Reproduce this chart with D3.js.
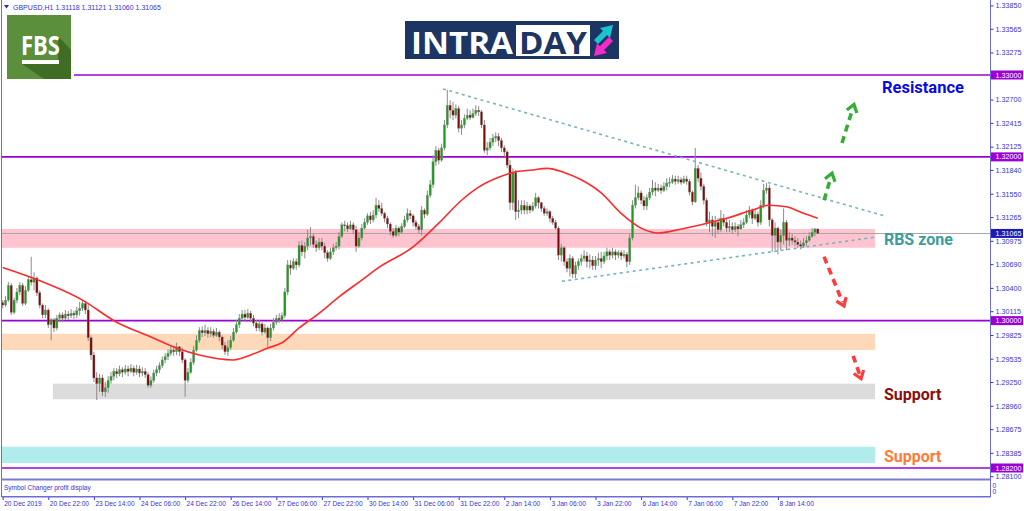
<!DOCTYPE html>
<html><head><meta charset="utf-8">
<script src="https://cdn.jsdelivr.net/npm/d3@7"></script>
<style>body{margin:0;background:#fff}svg{display:block}</style>
</head><body><svg id="c" width="1024" height="511"></svg>
<script>
// ---------------- DATA ----------------
const symbolTitle = "GBPUSD,H1";
const headerValues = ["1.31118", "1.31121", "1.31060", "1.31065"];
const firstOpen = 1.3022;
const closes = [
1.3019,1.3025,1.3043,1.3010,1.3025,1.3035,1.3043,1.3021,1.3037,1.3050,
1.3047,1.3052,1.3034,1.3019,1.3007,1.3013,1.2995,1.3001,1.2991,1.3003,
1.3007,1.3003,1.3008,1.3006,1.3009,1.3007,1.3012,1.3015,1.3021,1.3013,
1.2979,1.2958,1.2930,1.2923,1.2930,1.2913,1.2918,1.2927,1.2932,1.2938,
1.2935,1.2940,1.2937,1.2941,1.2938,1.2942,1.2937,1.2941,1.2936,1.2938,
1.2934,1.2921,1.2927,1.2936,1.2940,1.2945,1.2952,1.2956,1.2960,1.2964,
1.2962,1.2968,1.2962,1.2952,1.2927,1.2937,1.2949,1.2964,1.2976,1.2988,
1.2985,1.2988,1.2984,1.2987,1.2982,1.2986,1.2980,1.2970,1.2962,1.2967,
1.2976,1.2986,1.2995,1.3003,1.3008,1.3004,1.3009,1.3003,1.2997,1.2991,
1.2996,1.2986,1.2991,1.2979,1.2991,1.2998,1.3003,1.3001,1.3006,1.3035,
1.3068,1.3064,1.3072,1.3068,1.3092,1.3084,1.3091,1.3101,1.3103,1.3093,
1.3089,1.3096,1.3091,1.3083,1.3076,1.3084,1.3089,1.3091,1.3103,1.3117,
1.3116,1.3112,1.3117,1.3111,1.3091,1.3101,1.3113,1.3120,1.3128,1.3123,
1.3129,1.3141,1.3137,1.3131,1.3125,1.3118,1.3109,1.3104,1.3113,1.3108,
1.3115,1.3123,1.3131,1.3128,1.3120,1.3115,1.3111,1.3135,1.3130,1.3153,
1.3166,1.3194,1.3208,1.3196,1.3211,1.3239,1.3263,1.3257,1.3251,1.3259,
1.3235,1.3239,1.3247,1.3251,1.3248,1.3253,1.3257,1.3255,1.3239,1.3208,
1.3211,1.3218,1.3223,1.3225,1.3220,1.3211,1.3206,1.3190,1.3144,1.3181,
1.3133,1.3135,1.3141,1.3135,1.3140,1.3135,1.3140,1.3150,1.3144,1.3137,
1.3131,1.3133,1.3125,1.3120,1.3113,1.3080,1.3089,1.3072,1.3064,1.3076,
1.3057,1.3067,1.3072,1.3076,1.3079,1.3072,1.3074,1.3067,1.3074,1.3076,
1.3072,1.3079,1.3084,1.3080,1.3084,1.3080,1.3083,1.3079,1.3081,1.3072,
1.3101,1.3141,1.3150,1.3156,1.3147,1.3140,1.3150,1.3157,1.3162,1.3159,
1.3162,1.3159,1.3164,1.3168,1.3169,1.3173,1.3170,1.3172,1.3169,1.3173,
1.3170,1.3157,1.3145,1.3186,1.3174,1.3164,1.3147,1.3120,1.3123,1.3115,
1.3120,1.3111,1.3125,1.3120,1.3113,1.3115,1.3111,1.3115,1.3112,1.3117,
1.3120,1.3129,1.3135,1.3125,1.3130,1.3120,1.3141,1.3159,1.3162,1.3123,
1.3104,1.3113,1.3096,1.3104,1.3120,1.3098,1.3101,1.3098,1.3096,1.3093,
1.3091,1.3095,1.3098,1.3103,1.3108,1.3112,1.31065];
const highs = [
1.3025,1.3030,1.3047,1.3046,1.3028,1.3040,1.3047,1.3046,1.3042,1.3054,
1.3078,1.3059,1.3054,1.3037,1.3021,1.3019,1.3015,1.3003,1.3003,1.3007,
1.3010,1.3010,1.3013,1.3012,1.3014,1.3012,1.3017,1.3023,1.3025,1.3024,
1.3020,1.2982,1.2962,1.2937,1.2935,1.2934,1.2925,1.2932,1.2937,1.2942,
1.2942,1.2945,1.2943,1.2946,1.2945,1.2947,1.2945,1.2946,1.2945,1.2943,
1.2942,1.2937,1.2932,1.2940,1.2945,1.2949,1.2956,1.2960,1.2965,1.2970,
1.2969,1.2973,1.2969,1.2967,1.2954,1.2942,1.2954,1.2969,1.2982,1.2992,
1.2993,1.2995,1.2992,1.2992,1.2990,1.2991,1.2988,1.2982,1.2974,1.2976,
1.2981,1.2991,1.3001,1.3008,1.3013,1.3013,1.3014,1.3012,1.3007,1.3001,
1.3001,1.2998,1.2996,1.2993,1.2996,1.3003,1.3007,1.3009,1.3010,1.3040,
1.3074,1.3074,1.3076,1.3076,1.3097,1.3098,1.3096,1.3111,1.3114,1.3106,
1.3098,1.3101,1.3101,1.3095,1.3086,1.3089,1.3094,1.3096,1.3108,1.3120,
1.3122,1.3120,1.3122,1.3120,1.3116,1.3108,1.3118,1.3125,1.3131,1.3133,
1.3135,1.3150,1.3147,1.3144,1.3133,1.3128,1.3120,1.3113,1.3117,1.3115,
1.3119,1.3128,1.3137,1.3135,1.3130,1.3123,1.3118,1.3140,1.3137,1.3159,
1.3172,1.3202,1.3213,1.3211,1.3216,1.3245,1.3282,1.3269,1.3267,1.3264,
1.3262,1.3245,1.3252,1.3259,1.3257,1.3259,1.3263,1.3262,1.3257,1.3245,
1.3218,1.3223,1.3228,1.3230,1.3229,1.3223,1.3214,1.3208,1.3196,1.3186,
1.3184,1.3147,1.3147,1.3147,1.3145,1.3142,1.3145,1.3156,1.3152,1.3145,
1.3140,1.3137,1.3135,1.3128,1.3123,1.3115,1.3094,1.3091,1.3076,1.3081,
1.3079,1.3072,1.3076,1.3081,1.3086,1.3084,1.3081,1.3079,1.3079,1.3083,
1.3084,1.3084,1.3089,1.3087,1.3089,1.3087,1.3086,1.3086,1.3086,1.3084,
1.3106,1.3147,1.3166,1.3164,1.3159,1.3152,1.3154,1.3162,1.3172,1.3169,
1.3167,1.3166,1.3169,1.3174,1.3175,1.3178,1.3177,1.3177,1.3175,1.3177,
1.3177,1.3173,1.3159,1.3211,1.3190,1.3181,1.3167,1.3150,1.3133,1.3128,
1.3128,1.3125,1.3135,1.3130,1.3125,1.3123,1.3120,1.3120,1.3118,1.3123,
1.3125,1.3135,1.3140,1.3137,1.3137,1.3133,1.3147,1.3167,1.3168,1.3166,
1.3125,1.3120,1.3115,1.3111,1.3137,1.3123,1.3108,1.3106,1.3103,1.3101,
1.3098,1.3101,1.3103,1.3108,1.3113,1.3113,1.31121];
const lows = [
1.3015,1.3017,1.3023,1.3007,1.3008,1.3021,1.3031,1.3018,1.3019,1.3035,
1.3043,1.3037,1.3030,1.3015,1.3003,1.3003,1.2991,1.2976,1.2986,1.2988,
1.2998,1.2998,1.3001,1.3001,1.3003,1.3002,1.3003,1.3006,1.3012,1.3008,
1.2975,1.2952,1.2925,1.2903,1.2913,1.2908,1.2907,1.2912,1.2923,1.2927,
1.2930,1.2932,1.2931,1.2934,1.2932,1.2936,1.2932,1.2934,1.2931,1.2932,
1.2930,1.2918,1.2918,1.2924,1.2932,1.2936,1.2942,1.2948,1.2952,1.2957,
1.2957,1.2958,1.2957,1.2948,1.2907,1.2924,1.2935,1.2946,1.2962,1.2973,
1.2980,1.2981,1.2979,1.2980,1.2979,1.2980,1.2975,1.2965,1.2958,1.2957,
1.2964,1.2974,1.2984,1.2991,1.3001,1.2999,1.3002,1.2998,1.2993,1.2987,
1.2987,1.2982,1.2984,1.2968,1.2975,1.2988,1.2995,1.2997,1.2998,1.3003,
1.3031,1.3056,1.3062,1.3062,1.3065,1.3079,1.3076,1.3086,1.3092,1.3089,
1.3084,1.3086,1.3086,1.3076,1.3072,1.3074,1.3080,1.3086,1.3087,1.3101,
1.3109,1.3108,1.3111,1.3106,1.3084,1.3089,1.3098,1.3111,1.3117,1.3118,
1.3120,1.3125,1.3133,1.3128,1.3120,1.3113,1.3104,1.3101,1.3102,1.3103,
1.3106,1.3113,1.3120,1.3124,1.3115,1.3111,1.3106,1.3104,1.3125,1.3128,
1.3150,1.3162,1.3189,1.3191,1.3194,1.3208,1.3235,1.3247,1.3245,1.3247,
1.3230,1.3227,1.3235,1.3245,1.3245,1.3247,1.3250,1.3250,1.3235,1.3205,
1.3202,1.3208,1.3213,1.3218,1.3213,1.3206,1.3200,1.3186,1.3135,1.3135,
1.3123,1.3125,1.3130,1.3130,1.3130,1.3131,1.3133,1.3137,1.3137,1.3133,
1.3128,1.3128,1.3120,1.3117,1.3111,1.3074,1.3072,1.3067,1.3059,1.3054,
1.3052,1.3052,1.3062,1.3067,1.3072,1.3065,1.3064,1.3062,1.3062,1.3067,
1.3064,1.3069,1.3074,1.3074,1.3076,1.3074,1.3076,1.3074,1.3076,1.3065,
1.3068,1.3098,1.3137,1.3147,1.3142,1.3135,1.3135,1.3147,1.3153,1.3152,
1.3157,1.3155,1.3157,1.3159,1.3163,1.3167,1.3166,1.3167,1.3166,1.3167,
1.3166,1.3153,1.3141,1.3144,1.3169,1.3159,1.3142,1.3115,1.3108,1.3103,
1.3101,1.3106,1.3108,1.3115,1.3108,1.3108,1.3106,1.3108,1.3103,1.3111,
1.3113,1.3118,1.3125,1.3118,1.3123,1.3115,1.3117,1.3137,1.3155,1.3115,
1.3084,1.3086,1.3081,1.3086,1.3093,1.3086,1.3091,1.3093,1.3091,1.3089,
1.3087,1.3089,1.3091,1.3096,1.3101,1.3103,1.3106];

// Moving average (red line), read at selected bars
const maIndex = [0,10.6,28,40,52,61,69,81,87,93,98,104,111,118,126,132,144,153,161,167,174,179,186,191,197,203,210,217,224,230,237,245,254,263,269,275,281,286];
const maValue = [1.3065,1.3052,1.3025,1.2998,1.2980,1.29665,1.2958,1.2952,1.2958,1.29665,1.2973,1.2991,1.3009,1.3029,1.30495,1.3065,1.3090,1.3119,1.3147,1.3163,1.3175,1.3181,1.3184,1.3186,1.3181,1.3172,1.3156,1.3131,1.3113,1.3107,1.3111,1.3117,1.3125,1.3135,1.3141,1.3139,1.3131,1.3125];

// X axis time labels (every 16 bars)
const timeLabels = ["20 Dec 2019","20 Dec 22:00","23 Dec 14:00","24 Dec 06:00","24 Dec 22:00","26 Dec 14:00","27 Dec 06:00","27 Dec 22:00","30 Dec 14:00","31 Dec 06:00","31 Dec 22:00","2 Jan 14:00","3 Jan 06:00","3 Jan 22:00","6 Jan 14:00","7 Jan 06:00","7 Jan 22:00","8 Jan 14:00"];
const timeLabelStep = 16;

// Price axis ticks
const priceTicks = [1.33850,1.33565,1.33275,1.32990,1.32700,1.32415,1.32125,1.31840,1.31550,1.31265,1.30975,1.30690,1.30400,1.30115,1.29825,1.29535,1.29250,1.28960,1.28675,1.28385,1.28100];

// Horizontal levels and current price
const levels = [1.33000, 1.32000, 1.30000, 1.28200];
const currentPrice = 1.31065;

// Zones: [startBar, endBar], price top / bottom
const zoneNames = ["RBS", "peach", "grey", "cyan"];
const zoneStart = [-0.3, -0.3, 17.6, -0.3];
const zoneEnd = [306.1, 306.1, 306.1, 306.1];
const zoneTop = [1.3112, 1.2984, 1.2923, 1.2846];
const zoneBottom = [1.3089, 1.2964, 1.2904, 1.2826];

// Triangle trend lines: [bar, price] pairs
const upperTrend = [[154.5, 1.3283], [309.2, 1.3128]];
const lowerTrend = [[196.2, 1.3048], [306.1, 1.3102]];

// Scenario arrows: tail -> head, [bar, price]
const arrowTails = [[294.5, 1.3217], [288.2, 1.3147], [288.2, 1.3078], [298.4, 1.2957]];
const arrowHeads = [[298.7, 1.3264], [291.0, 1.3180], [295.2, 1.3018], [301.2, 1.2929]];
const arrowKinds = ["up", "up", "down", "down"];

// Text labels: [bar, price]
const noteTexts = ["Resistance", "RBS zone", "Support", "Support"];
const notePos = [[308.5, 1.3278], [309.2, 1.3092], [309.2, 1.2903], [309.2, 1.2827]];

// ---------------- STYLES ----------------
const S = {
  axisBlue: "#3434d2", frame: "#6d6dd8", level: "#9b00d4", cur: "#1c1cb0",
  bull: "#1e9e1e", bear: "#7e0a0a", wick: "#8a8a8a", ma: "#ff2a2a",
  trend: "#78b4bc", upArrow: "#35ae35", downArrow: "#ff3b3b",
  zone: {RBS: "#ffc4cf", peach: "#fdd9b9", grey: "#dcdcdc", cyan: "#b1ecec"},
  noteColor: ["#0a0ae6", "#3d9c9c", "#8a0d0d", "#ff7a3a"]
};

// ---------------- SCALES ----------------
const svg = d3.select("#c");
const x = d3.scaleLinear().domain([0, 286]).range([2.7, 817.8]);
const y = d3.scaleLinear().domain([1.282, 1.33]).range([468, 75]);
const plotRight = 990, plotBottom = 478;

svg.append("defs").append("clipPath").attr("id", "clip")
  .append("rect").attr("x", 2).attr("y", 0).attr("width", plotRight - 2).attr("height", plotBottom);
const plot = svg.append("g").attr("clip-path", "url(#clip)");

// zones
zoneNames.forEach((n, k) => {
  plot.append("rect")
    .attr("x", x(zoneStart[k])).attr("width", x(zoneEnd[k]) - x(zoneStart[k]))
    .attr("y", y(zoneTop[k])).attr("height", y(zoneBottom[k]) - y(zoneTop[k]))
    .attr("fill", S.zone[n]);
});

// current price line
plot.append("line").attr("x1", 2).attr("x2", plotRight)
  .attr("y1", Math.round(y(currentPrice)) + 0.5).attr("y2", Math.round(y(currentPrice)) + 0.5)
  .attr("stroke", "#a8a8a8").attr("stroke-width", 1);

// level lines
levels.forEach((lv, k) => {
  plot.append("line").attr("x1", k === 0 ? 74 : 2).attr("x2", plotRight)
    .attr("y1", y(lv)).attr("y2", y(lv))
    .attr("stroke", S.level).attr("stroke-width", 1.6);
});

// candles
const candles = closes.map((c, i) => ({i, o: i === 0 ? firstOpen : closes[i - 1], h: highs[i], l: lows[i], c}));
const cg = plot.append("g");
cg.selectAll("line.w").data(candles).enter().append("line")
  .attr("x1", d => x(d.i)).attr("x2", d => x(d.i))
  .attr("y1", d => y(Math.max(d.h, d.o, d.c))).attr("y2", d => y(Math.min(d.l, d.o, d.c)))
  .attr("stroke", S.wick).attr("stroke-width", 1);
cg.selectAll("rect.b").data(candles).enter().append("rect")
  .attr("x", d => x(d.i) - 1.1).attr("width", 2.2)
  .attr("y", d => y(Math.max(d.o, d.c)))
  .attr("height", d => Math.max(1, Math.abs(y(d.o) - y(d.c))))
  .attr("fill", d => d.c >= d.o ? S.bull : S.bear)
  .attr("stroke", "#8a8a8a").attr("stroke-width", 0.35);

// moving average
const maLine = d3.line().x(d => x(d[0])).y(d => y(d[1])).curve(d3.curveMonotoneX);
plot.append("path").datum(maIndex.map((v, k) => [v, maValue[k]]))
  .attr("d", maLine).attr("fill", "none").attr("stroke", S.ma).attr("stroke-width", 1.6);

// trend lines
[upperTrend, lowerTrend].forEach(t => {
  plot.append("line").attr("x1", x(t[0][0])).attr("y1", y(t[0][1]))
    .attr("x2", x(t[1][0])).attr("y2", y(t[1][1]))
    .attr("stroke", S.trend).attr("stroke-width", 1.6).attr("stroke-dasharray", "3,3.5");
});

// arrows
arrowTails.forEach((tl, k) => {
  const x1 = x(tl[0]), y1 = y(tl[1]), x2 = x(arrowHeads[k][0]), y2 = y(arrowHeads[k][1]);
  const col = arrowKinds[k] === "up" ? S.upArrow : S.downArrow;
  const ang = Math.atan2(y2 - y1, x2 - x1);
  const len = Math.hypot(x2 - x1, y2 - y1);
  const ex = x1 + Math.cos(ang) * (len - 4), ey = y1 + Math.sin(ang) * (len - 4);
  svg.append("line").attr("x1", x1).attr("y1", y1).attr("x2", ex).attr("y2", ey)
    .attr("stroke", col).attr("stroke-width", 3.6).attr("stroke-dasharray", "7,5");
  const hl = 9, spread = 0.62;
  const p1 = [x2 - hl * Math.cos(ang - spread), y2 - hl * Math.sin(ang - spread)];
  const p2 = [x2 - hl * Math.cos(ang + spread), y2 - hl * Math.sin(ang + spread)];
  svg.append("path").attr("d", `M${p1[0]},${p1[1]}L${x2},${y2}L${p2[0]},${p2[1]}`)
    .attr("fill", "none").attr("stroke", col).attr("stroke-width", 3.2)
    .attr("stroke-linejoin", "miter");
});

// notes
noteTexts.forEach((t, k) => {
  svg.append("text").attr("x", x(notePos[k][0])).attr("y", y(notePos[k][1]))
    .attr("font-family", "Roboto, 'Open Sans', sans-serif").attr("font-weight", 700)
    .attr("font-size", k === 0 ? 16.5 : 16).attr("fill", S.noteColor[k]).text(t);
});

// ---------------- FRAME / AXES ----------------
const axisFont = "Tahoma, 'DejaVu Sans', 'Liberation Sans', sans-serif";
svg.append("line").attr("x1", 1.5).attr("x2", 1.5).attr("y1", 0).attr("y2", 497)
  .attr("stroke", S.frame).attr("stroke-width", 1);
svg.append("line").attr("x1", plotRight + 0.5).attr("x2", plotRight + 0.5).attr("y1", 0).attr("y2", 497)
  .attr("stroke", S.frame).attr("stroke-width", 1);

// right price axis
const yAxis = d3.axisRight(y).tickValues(priceTicks).tickSize(3).tickPadding(2)
  .tickFormat(d3.format(".5f"));
const ya = svg.append("g").attr("transform", `translate(${plotRight + 0.5},0)`).call(yAxis);
ya.select(".domain").remove();
ya.selectAll("line").attr("stroke", S.axisBlue);
ya.selectAll("text").attr("fill", S.axisBlue).attr("font-family", "'Liberation Sans', Arial, sans-serif")
  .attr("font-size", 7.2);

// level boxes
const boxLevels = levels.map(v => ({v, col: S.level})).concat([{v: currentPrice, col: S.cur}]);
boxLevels.forEach(b => {
  svg.append("rect").attr("x", plotRight + 1).attr("y", y(b.v) - 4.5).attr("width", 32).attr("height", 9)
    .attr("fill", b.col);
  svg.append("text").attr("x", plotRight + 5.5).attr("y", y(b.v) + 2.6)
    .attr("font-family", "'Liberation Sans', Arial, sans-serif").attr("font-size", 7.2)
    .attr("fill", "#fff").text(d3.format(".5f")(b.v));
});

// sub window
svg.append("rect").attr("x", 1.5).attr("y", 479.5).attr("width", plotRight - 1).attr("height", 17)
  .attr("fill", "#fff").attr("stroke", S.frame).attr("stroke-width", 1);
svg.append("line").attr("x1", 1.5).attr("x2", plotRight + 0.5).attr("y1", 479.5).attr("y2", 479.5)
  .attr("stroke", "#7a7ad6").attr("stroke-width", 2);
svg.append("text").attr("x", 4).attr("y", 490).attr("font-family", "'Liberation Sans', Arial, sans-serif")
  .attr("font-size", 6.5).attr("fill", S.axisBlue).text("Symbol Changer profit display");
svg.append("text").attr("x", plotRight + 2.5).attr("y", 488).attr("font-family", "'Liberation Sans', Arial, sans-serif")
  .attr("font-size", 6.5).attr("fill", S.axisBlue).text("0");
svg.append("text").attr("x", plotRight + 2.5).attr("y", 494).attr("font-family", "'Liberation Sans', Arial, sans-serif")
  .attr("font-size", 6.5).attr("fill", S.axisBlue).text("0");

// bottom time axis
const xAxis = d3.axisBottom(x).tickValues(timeLabels.map((_, k) => k * timeLabelStep))
  .tickSize(3).tickFormat((d, k) => timeLabels[k]);
const xa = svg.append("g").attr("transform", "translate(0,497)").call(xAxis);
xa.select(".domain").remove();
xa.selectAll("line").attr("stroke", S.axisBlue);
xa.selectAll("text").attr("fill", S.axisBlue).attr("font-family", "'Liberation Sans', Arial, sans-serif")
  .attr("font-size", 6.6).attr("text-anchor", "start").attr("dx", "1").attr("y", 4).attr("dy", "0.71em");
svg.append("line").attr("x1", 1.5).attr("x2", plotRight + 0.5).attr("y1", 497).attr("y2", 497)
  .attr("stroke", S.frame).attr("stroke-width", 1.2);

// header
svg.append("path").attr("d", "M4,5L9,5L6.5,8.5Z").attr("fill", "#2a2ab8");
svg.append("text").attr("x", 13).attr("y", 9.5).attr("font-family", "'Liberation Sans', Arial, sans-serif")
  .attr("font-size", 7).attr("fill", S.axisBlue)
  .text(symbolTitle + "  " + headerValues.join(" "));

// FBS logo
const fbs = svg.append("g");
fbs.append("rect").attr("x", 4).attr("y", 13).attr("width", 70).attr("height", 68).attr("fill", "#fff");
fbs.append("rect").attr("x", 7).attr("y", 15).attr("width", 64).attr("height", 64).attr("fill", "#5b8f3b");
fbs.append("path").attr("d", "M58,36 L71,50 L71,79 L44,79 L22,64 L58,64 Z").attr("fill", "#3f6d24");
fbs.append("text").attr("x", 21).attr("y", 55).attr("font-family", "'Open Sans', 'Liberation Sans', sans-serif")
  .attr("font-weight", 700).attr("font-size", 27).attr("fill", "#fff")
  .attr("textLength", 39).attr("lengthAdjust", "spacingAndGlyphs").text("FBS");
fbs.append("rect").attr("x", 22).attr("y", 60).attr("width", 37).attr("height", 4).attr("fill", "#fff");

// INTRADAY logo
const it = svg.append("g");
it.append("rect").attr("x", 405).attr("y", 21).attr("width", 214).attr("height", 38).attr("fill", "#1c3562");
it.append("text").attr("x", 411).attr("y", 53.5).attr("font-family", "'Open Sans', 'Liberation Sans', sans-serif")
  .attr("font-weight", 700).attr("font-size", 30).attr("fill", "#fff")
  .attr("textLength", 102).attr("lengthAdjust", "spacingAndGlyphs").text("INTRA");
it.append("rect").attr("x", 516).attr("y", 25).attr("width", 74).attr("height", 31).attr("fill", "#fff");
it.append("text").attr("x", 519).attr("y", 53.5).attr("font-family", "'Open Sans', 'Liberation Sans', sans-serif")
  .attr("font-weight", 700).attr("font-size", 30).attr("fill", "#1c3562")
  .attr("textLength", 68).attr("lengthAdjust", "spacingAndGlyphs").text("DAY");
it.append("path").attr("d", "M594,40 L603,31 L600,28 L613,25 L610,38 L607,35 L598,44 Z").attr("fill", "#19c6cf");
it.append("path").attr("d", "M613,41 L604,50 L607,53 L594,56 L597,43 L600,46 L609,37 Z").attr("fill", "#f22bc9");
</script></body></html>
